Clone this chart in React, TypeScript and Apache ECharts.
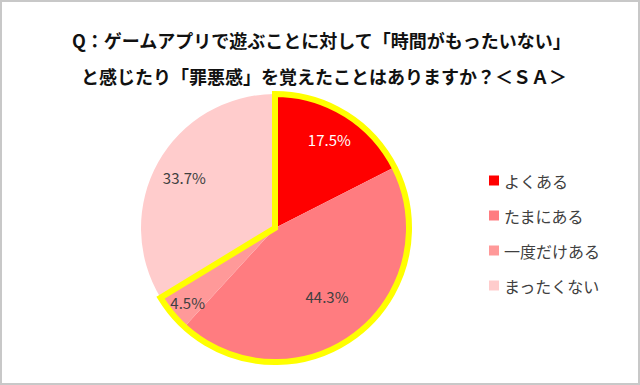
import React, { useEffect, useRef } from "react";
import * as echarts from "echarts";

const TITLE_LINE_1 = "Q：ゲームアプリで遊ぶことに対して「時間がもったいない」";
const TITLE_LINE_2 = "と感じたり「罪悪感」を覚えたことはありますか？＜ＳＡ＞";
const CATEGORIES = ["よくある", "たまにある", "一度だけある", "まったくない"];
const VALUES = [17.5, 44.3, 4.5, 33.7];
const COLORS = ["#FF0000", "#FF7C80", "#FF9999", "#FFCCCC"];
const LABEL_COLORS = ["#FFFFFF", "#404040", "#404040", "#404040"];
const HIGHLIGHT_COUNT = 3; // first three slices are outlined in yellow
const LABEL_SHIFT = [
  [0, 0],
  [-11, -14],
  [-7, 8],
  [0, 0],
];

const FONT = '"Noto Sans CJK JP", "Noto Sans", sans-serif';

export default function App() {
  const ref = useRef<HTMLDivElement>(null);

  useEffect(() => {
    if (!ref.current) return;
    const chart = echarts.init(ref.current, undefined, { renderer: "svg" });
    const center = [275, 228];
    const R = 134;
    const highlighted = VALUES.slice(0, HIGHLIGHT_COUNT).reduce((a, b) => a + b, 0);
    const rest = VALUES.slice(HIGHLIGHT_COUNT).reduce((a, b) => a + b, 0);

    chart.setOption({
      animation: false,
      backgroundColor: "#FFFFFF",
      title: [
        {
          text: TITLE_LINE_1,
          left: 67,
          top: 26,
          textStyle: { fontFamily: FONT, fontSize: 18, fontWeight: "bold", color: "#111111" },
        },
        {
          text: TITLE_LINE_2,
          left: 76,
          top: 62,
          textStyle: { fontFamily: FONT, fontSize: 18, fontWeight: "bold", color: "#111111" },
        },
      ],
      legend: {
        orient: "vertical",
        left: 484,
        top: 167,
        icon: "rect",
        itemWidth: 10,
        itemHeight: 10,
        itemGap: 18,
        data: CATEGORIES,
        textStyle: { fontFamily: FONT, fontSize: 16, color: "#404040", lineHeight: 17 },
      },
      graphic: [
        {
          type: "rect",
          shape: { x: 1, y: 1, width: 638, height: 383 },
          style: { fill: "none", stroke: "#C8C8C8", lineWidth: 2 },
          silent: true,
        },
      ],
      series: [
        {
          type: "pie",
          center,
          radius: [0, R],
          startAngle: 90,
          clockwise: true,
          silent: true,
          label: { show: false },
          labelLine: { show: false },
          data: CATEGORIES.map((name, i) => ({
            name,
            value: VALUES[i],
            itemStyle: { color: COLORS[i] },
          })),
        },
        {
          type: "pie",
          center,
          radius: [0, R],
          startAngle: 90,
          clockwise: true,
          silent: true,
          label: { show: false },
          labelLine: { show: false },
          data: [
            {
              name: "_hl",
              value: highlighted,
              itemStyle: { color: "rgba(0,0,0,0)", borderColor: "#FFFF00", borderWidth: 6, borderJoin: "miter" },
            },
            {
              name: "_rest",
              value: rest,
              itemStyle: { color: "rgba(0,0,0,0)", borderWidth: 0 },
            },
          ],
        },
        {
          type: "pie",
          center,
          radius: [68, R],
          startAngle: 90,
          clockwise: true,
          silent: true,
          itemStyle: { color: "rgba(0,0,0,0)" },
          label: {
            show: true,
            position: "inside",
            fontFamily: FONT,
            fontSize: 15,
            formatter: (p: any) => `${VALUES[p.dataIndex].toFixed(1)}%`,
          },
          labelLine: { show: false },
          labelLayout: (p: any) => ({ dx: LABEL_SHIFT[p.dataIndex][0], dy: LABEL_SHIFT[p.dataIndex][1] }),
          data: CATEGORIES.map((name, i) => ({
            name: "lbl_" + name,
            value: VALUES[i],
            label: { color: LABEL_COLORS[i] },
          })),
        },
      ],
    });
    return () => chart.dispose();
  }, []);

  return (
    <div
      ref={ref}
      style={{ position: "fixed", left: 0, top: 0, width: 640, height: 385 }}
    />
  );
}
